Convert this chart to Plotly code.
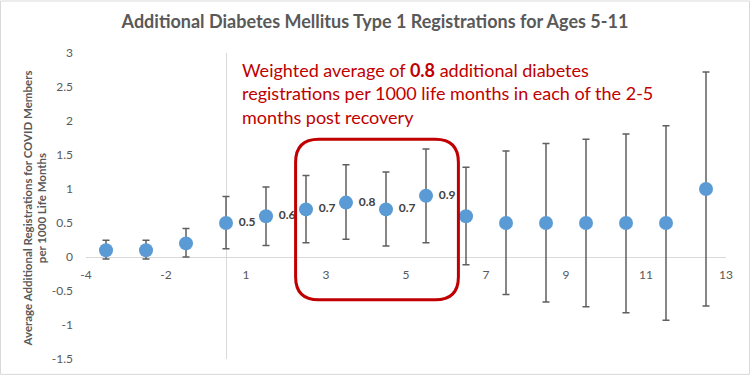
import plotly.graph_objects as go

# ---- data ----
period_pos = [-3, -2, -1, 0, 1, 2, 3, 4, 5, 6, 7, 8, 9, 10, 11, 12]
avg_regs = [0.1, 0.1, 0.2, 0.5, 0.6, 0.7, 0.8, 0.7, 0.9, 0.6, 0.5, 0.5, 0.5, 0.5, 0.5, 1.0]
upper_ci = [0.245, 0.245, 0.42, 0.89, 1.03, 1.2, 1.355, 1.25, 1.59, 1.32, 1.56, 1.67, 1.73, 1.81, 1.93, 2.72]
lower_ci = [-0.03, -0.03, 0.0, 0.12, 0.17, 0.21, 0.26, 0.16, 0.21, -0.115, -0.55, -0.66, -0.73, -0.82, -0.93, -0.72]
point_labels = ["", "", "", "0.5", "0.6", "0.7", "0.8", "0.7", "0.9", "", "", "", "", "", "", ""]
x_tick_pos = [-3.5, -1.5, 0.5, 2.5, 4.5, 6.5, 8.5, 10.5, 12.5]
x_tick_text = ["-4", "-2", "1", "3", "5", "7", "9", "11", "13"]
y_tick_vals = [3, 2.5, 2, 1.5, 1, 0.5, 0, -0.5, -1, -1.5]
y_tick_text = ["3", "2.5", "2", "1.5", "1", "0.5", "0", "-0.5", "-1", "-1.5"]

err_plus = [u - v for u, v in zip(upper_ci, avg_regs)]
err_minus = [v - l for v, l in zip(avg_regs, lower_ci)]

FONT = "Lato, 'Open Sans', sans-serif"
GRAY = "#595959"

fig = go.Figure()
fig.add_trace(go.Scatter(
    x=period_pos, y=avg_regs,
    mode="markers+text",
    text=[(" " + t) if t else "" for t in point_labels],
    textposition="middle right",
    textfont=dict(family=FONT, size=12, color="#404040", weight="bold"),
    marker=dict(size=14, color="#5B9BD5"),
    error_y=dict(type="data", symmetric=False, array=err_plus, arrayminus=err_minus,
                 color="#5f5f5f", thickness=1.5, width=3.5),
    showlegend=False,
    cliponaxis=False,
))

W, H = 750, 378
L, R, T, B = 86, 24, 53, 16
pw, ph = W - L - R, H - T - B

def px_x(p):
    return (p - L) / pw

def px_y(p):
    return (H - B - p) / ph

# rounded rectangle highlight (data coords)
x0, x1, y0, y1 = 1.74, 5.81, -0.63, 1.73
rx, ry = 0.58, 0.34
path = (f"M {x0+rx},{y1} L {x1-rx},{y1} Q {x1},{y1} {x1},{y1-ry} "
        f"L {x1},{y0+ry} Q {x1},{y0} {x1-rx},{y0} L {x0+rx},{y0} "
        f"Q {x0},{y0} {x0},{y0+ry} L {x0},{y1-ry} Q {x0},{y1} {x0+rx},{y1} Z")

fig.update_layout(
    width=W, height=H,
    margin=dict(l=L, r=R, t=T, b=B),
    paper_bgcolor="white", plot_bgcolor="white",
    font=dict(family=FONT, color=GRAY),
    title=dict(text="<b>Additional Diabetes Mellitus Type 1 Registrations for Ages 5-11</b>",
               x=0.5, xref="container", y=1 - 22 / H, yref="container", yanchor="middle",
               xanchor="center",
               font=dict(family=FONT, size=18, color=GRAY)),
    xaxis=dict(range=[-3.5, 12.5], tickvals=x_tick_pos, ticktext=x_tick_text,
               showgrid=False, showline=False, zeroline=True, zerolinecolor="#d9d9d9",
               zerolinewidth=1, ticks="", anchor="free", position=1.5 / 4.5,
               tickfont=dict(family=FONT, size=12, color=GRAY), ticklabelstandoff=9),
    yaxis=dict(range=[-1.5, 3], tickvals=y_tick_vals, ticktext=y_tick_text,
               showgrid=False, showline=False, zeroline=True, zerolinecolor="#d9d9d9",
               zerolinewidth=1, ticks="",
               tickfont=dict(family=FONT, size=12, color=GRAY), ticklabelstandoff=12),
    shapes=[
        dict(type="path", path=path, xref="x", yref="y",
             line=dict(color="#C00000", width=3)),
        dict(type="rect", xref="paper", yref="paper",
             x0=px_x(0.5), x1=px_x(W - 0.5), y0=px_y(H - 0.5), y1=px_y(0.5),
             line=dict(color="#d9d9d9", width=1), layer="below"),
    ],
    annotations=[
        dict(text="Weighted average of <b>0.8</b> additional diabetes<br>"
                  "registrations per 1000 life months in each of the 2-5<br>"
                  "months post recovery",
             xref="paper", yref="paper", x=px_x(240), y=px_y(57),
             xanchor="left", yanchor="top", align="left", showarrow=False,
             font=dict(family=FONT, size=18, color="#C00000")),
        dict(text="<b>Average Additional Registrations for COVID Members<br>per 1000 Life Months</b>",
             xref="paper", yref="paper", x=px_x(35), y=px_y(210),
             xanchor="center", yanchor="middle", textangle=-90, showarrow=False,
             font=dict(family=FONT, size=11.5, color=GRAY)),
    ],
)

fig.write_html("out.html", config={"displayModeBar": False},
               post_script="document.body.style.margin='0';")
